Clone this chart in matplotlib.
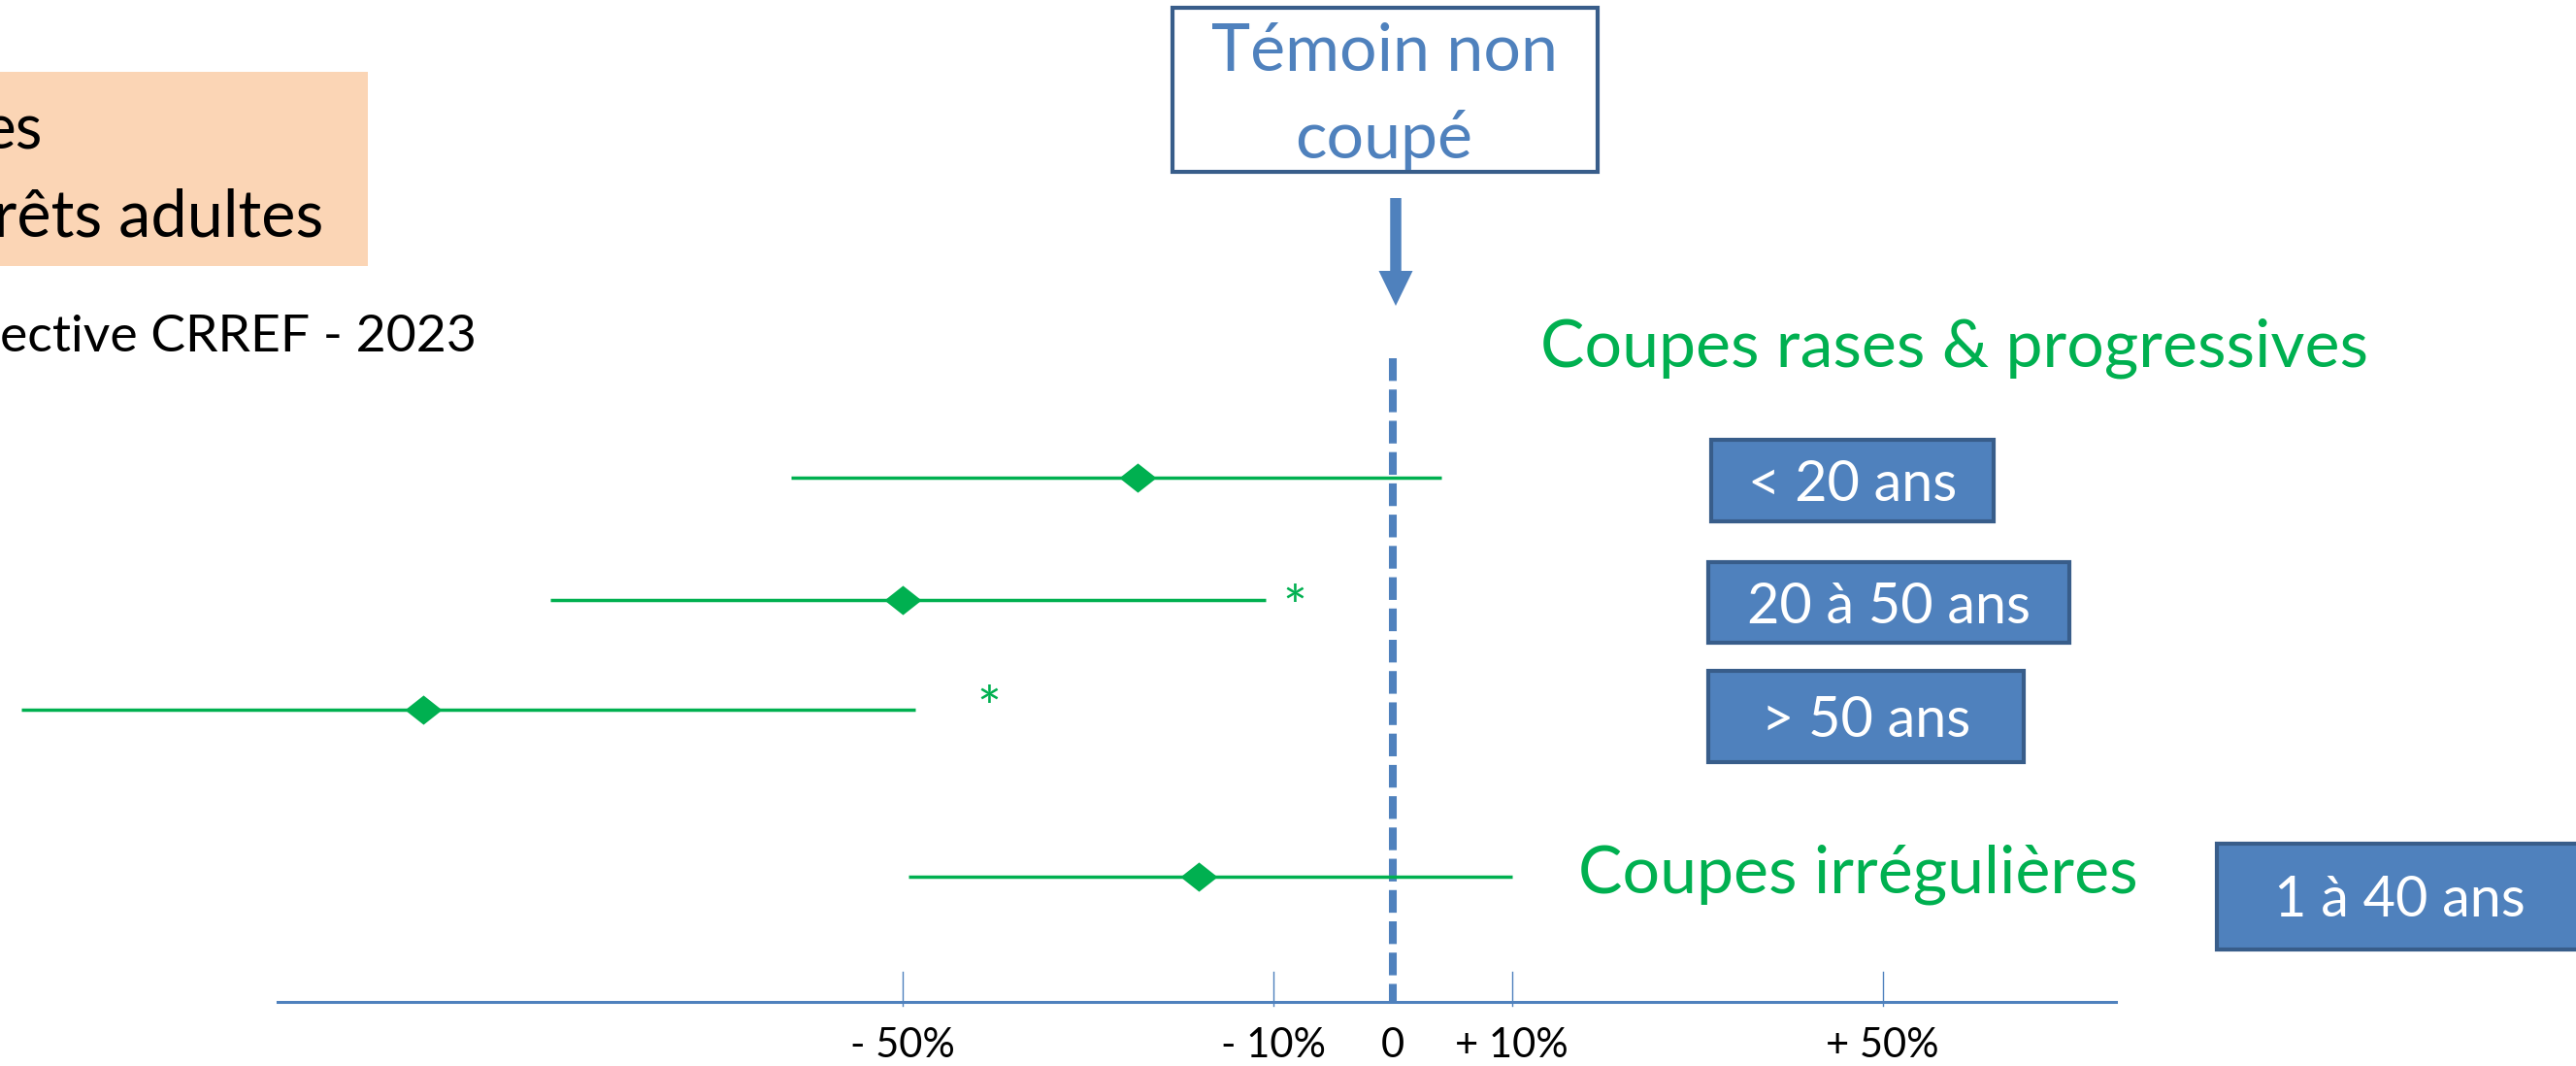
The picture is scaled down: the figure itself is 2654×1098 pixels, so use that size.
import numpy as np
import matplotlib
matplotlib.use('Agg')
import matplotlib.pyplot as plt
from matplotlib.patches import Rectangle, FancyArrow
from matplotlib.path import Path

plt.rcParams['font.family'] = ['Lato', 'DejaVu Sans']

#--------------------------------------------------------
# Données (effet en % par rapport au témoin non coupé)
categories = ['< 20 ans', '20 à 50 ans', '> 50 ans', '1 à 40 ans']
effet = [-24.6, -50.0, -101.7, -18.0]
ic_bas = [-62.0, -88.0, -145.0, -49.3]
ic_haut = [4.1, -10.8, -48.6, 10.1]
etoile_x = [None, -8.2, -40.6, None]   # position de l'astérisque (significatif)
tick_vals = [-50, -10, 0, 10, 50]
tick_labels = ['- 50%', '- 10%', '0', '+ 10%', '+ 50%']

#--------------------------------------------------------
# Mise en page (pixels de la diapo 2654 x 1098)
W, H = 2654, 1098
row_y = [492, 618, 731, 903]
etoile_dy = [0, -6, -15, 0]
boites = [(1763, 453, 291, 84), (1760, 579, 372, 83), (1760, 691, 325, 94), (2284, 869, 380, 109)]

VERT = '#00B050'
BLEU = '#4F81BD'
BLEU_F = '#385D8A'

# échelle non linéaire de l'axe (dessin à la main : +-10% plus étalé)
PX_ZERO = 1434.5
K_IN, K_OUT = 12.3, 9.55

def pct_to_px(p):
    p = np.asarray(p, dtype=float)
    a = np.abs(p)
    return np.sign(p) * np.where(a <= 10, a * K_IN, 10 * K_IN + (a - 10) * K_OUT)

def px_to_pct(d):
    d = np.asarray(d, dtype=float)
    a = np.abs(d)
    return np.sign(d) * np.where(a <= 10 * K_IN, a / K_IN, 10 + (a - 10 * K_IN) / K_OUT)

fig = plt.figure(figsize=(W / 100, H / 100), dpi=100)

# calque pour les éléments de texte / boites (coordonnées pixels)
ov = fig.add_axes([0, 0, 1, 1])
ov.set_xlim(0, W)
ov.set_ylim(H, 0)
ov.axis('off')

# axe des données
ax = fig.add_axes([0, 0, 1, 1], zorder=2)
ax.patch.set_alpha(0)
ax.set_xscale('function', functions=(pct_to_px, px_to_pct))
ax.set_xlim(float(px_to_pct(-PX_ZERO)), float(px_to_pct(W - PX_ZERO)))
ax.set_ylim(H, 0)
ax.axis('off')

# titre (encadré saumon, coupé à gauche)
ov.add_patch(Rectangle((0, 74), 379, 200, facecolor='#FBD5B5', edgecolor='none'))
ov.text(44, 153, 'es', fontsize=46, ha='right', va='baseline', color='black')
ov.text(333, 243, 'rêts adultes', fontsize=48, ha='right', va='baseline', color='black')
ov.text(491, 362, 'ective CRREF - 2023', fontsize=38.5, ha='right', va='baseline', color='black')

# témoin
ov.add_patch(Rectangle((1208, 8), 438, 169, facecolor='white', edgecolor=BLEU_F, lw=3))
ov.text(1426, 73, 'Témoin non', fontsize=49, ha='center', va='baseline', color=BLEU)
ov.text(1426, 163, 'coupé', fontsize=49, ha='center', va='baseline', color=BLEU)
ov.add_patch(FancyArrow(1438, 204, 0, 111, width=11.5, head_width=35, head_length=36,
                        length_includes_head=True, color=BLEU, lw=0))

# ligne du témoin (0)
ax.plot([0, 0], [369, 1032], color=BLEU, lw=5.8, ls=(0, (2.9, 1.1)), zorder=1)

# axe horizontal
ov.plot([286, 2180], [1032, 1032], color=BLEU, lw=2.2)
for v, lab in zip(tick_vals, tick_labels):
    if v != 0:
        ax.plot([v, v], [1001, 1036], color=BLEU, lw=1)
    ax.text(v, 1089, lab, fontsize=30, ha='center', va='baseline', color='black')

# titres des groupes
ov.text(1587, 377, 'Coupes rases & progressives', fontsize=49, ha='left', va='baseline', color=VERT)
ov.text(1626, 920, 'Coupes irrégulières', fontsize=49, ha='left', va='baseline', color=VERT)

# boites des classes d'âge
for (x0, y0, w, h), cat in zip(boites, categories):
    ov.add_patch(Rectangle((x0, y0), w, h, facecolor=BLEU, edgecolor=BLEU_F, lw=3))
    ov.text(x0 + w / 2 if cat != '1 à 40 ans' else 2472, y0 + h / 2 + 21, cat, fontsize=41.5,
            ha='center', va='baseline', color='white')

# intervalles + effets
losange = Path([(-1, 0), (0, 0.79), (1, 0), (0, -0.79), (-1, 0)],
               [Path.MOVETO, Path.LINETO, Path.LINETO, Path.LINETO, Path.CLOSEPOLY])
ax.hlines(row_y, ic_bas, ic_haut, color=VERT, lw=2.5, zorder=3)
ax.plot(effet, row_y, ls='none', marker=losange, markersize=27.5, color=VERT, mew=0, zorder=4)
for ex, y, dy in zip(etoile_x, row_y, etoile_dy):
    if ex is not None:
        ax.text(ex, y + dy + 17, '*', fontsize=42, ha='center', va='center', color=VERT)

fig.savefig('out.png', dpi=100)
